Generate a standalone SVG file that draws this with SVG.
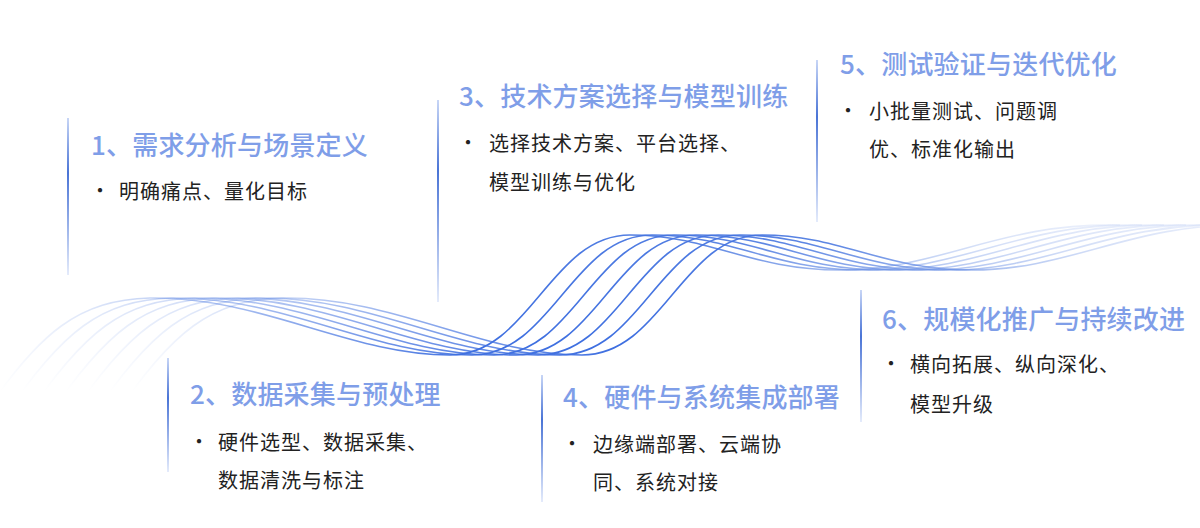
<svg xmlns="http://www.w3.org/2000/svg" width="1200" height="528" viewBox="0 0 1200 528">
<defs>
<linearGradient id="wg" gradientUnits="userSpaceOnUse" x1="0" y1="0" x2="1200" y2="0">
<stop offset="0" stop-color="#4a78e0" stop-opacity="0"/>
<stop offset="0.12" stop-color="#4a78e0" stop-opacity="0.3"/>
<stop offset="0.4" stop-color="#3d6ee0" stop-opacity="1"/>
<stop offset="0.58" stop-color="#4a78e0" stop-opacity="0.9"/>
<stop offset="0.8" stop-color="#7d9ee8" stop-opacity="0.35"/>
<stop offset="1" stop-color="#9db5ee" stop-opacity="0.05"/>
</linearGradient>
<linearGradient id="vl" x1="0" y1="0" x2="0" y2="1">
<stop offset="0" stop-color="#c8d6f6"/>
<stop offset="0.35" stop-color="#4a74d6"/>
<stop offset="1" stop-color="#e4ebfb"/>
</linearGradient>
</defs>
<style>
.t{font-family:"Noto Sans CJK SC","Noto Sans",sans-serif;font-size:26px;letter-spacing:0.2px;fill:#7f9ee8;font-weight:500}
.b{font-family:"Noto Sans CJK SC","Noto Sans",sans-serif;font-size:20px;letter-spacing:1px;fill:#222}
.w{fill:none;stroke:url(#wg);stroke-width:1.6}
.v{fill:url(#vl)}
</style>
<g id="connectors">
<path id="wv" class="w" d="M -20 420 C 40 330, 80 300, 150 298 C 260 296, 350 355, 450 355 C 530 355, 550 235, 630 235 C 710 235, 750 270, 840 270 C 940 270, 1000 222, 1120 225"/>
<use href="#wv" transform="translate(22,0)"/>
<use href="#wv" transform="translate(44,0)"/>
<use href="#wv" transform="translate(66,0)"/>
<use href="#wv" transform="translate(88,0)"/>
<use href="#wv" transform="translate(110,0)"/>
<use href="#wv" transform="translate(132,0)"/>
</g>
<g id="n1">
<rect class="v" x="67" y="118" width="2" height="157"/>
<text class="t" x="91" y="155">1、需求分析与场景定义</text>
<text class="b" x="90" y="198">•</text>
<text class="b" x="119" y="199">明确痛点、量化目标</text>
</g>
<g id="n2">
<rect class="v" x="167" y="358" width="2" height="114"/>
<text class="t" x="190" y="404">2、数据采集与预处理</text>
<text class="b" x="189" y="449">•</text>
<text class="b" x="218" y="450">硬件选型、数据采集、</text>
<text class="b" x="218" y="488">数据清洗与标注</text>
</g>
<g id="n3">
<rect class="v" x="437" y="100" width="2" height="202"/>
<text class="t" x="459" y="106">3、技术方案选择与模型训练</text>
<text class="b" x="458" y="150">•</text>
<text class="b" x="489" y="151">选择技术方案、平台选择、</text>
<text class="b" x="489" y="190">模型训练与优化</text>
</g>
<g id="n4">
<rect class="v" x="541" y="375" width="2" height="127"/>
<text class="t" x="563" y="407">4、硬件与系统集成部署</text>
<text class="b" x="562" y="451">•</text>
<text class="b" x="593" y="452">边缘端部署、云端协</text>
<text class="b" x="593" y="490">同、系统对接</text>
</g>
<g id="n5">
<rect class="v" x="816" y="60" width="2" height="162"/>
<text class="t" x="840" y="74">5、测试验证与迭代优化</text>
<text class="b" x="838" y="118">•</text>
<text class="b" x="869" y="119">小批量测试、问题调</text>
<text class="b" x="869" y="157">优、标准化输出</text>
</g>
<g id="n6">
<rect class="v" x="860" y="290" width="2" height="132"/>
<text class="t" x="882" y="329">6、规模化推广与持续改进</text>
<text class="b" x="881" y="371">•</text>
<text class="b" x="910" y="372">横向拓展、纵向深化、</text>
<text class="b" x="910" y="412">模型升级</text>
</g>
</svg>
